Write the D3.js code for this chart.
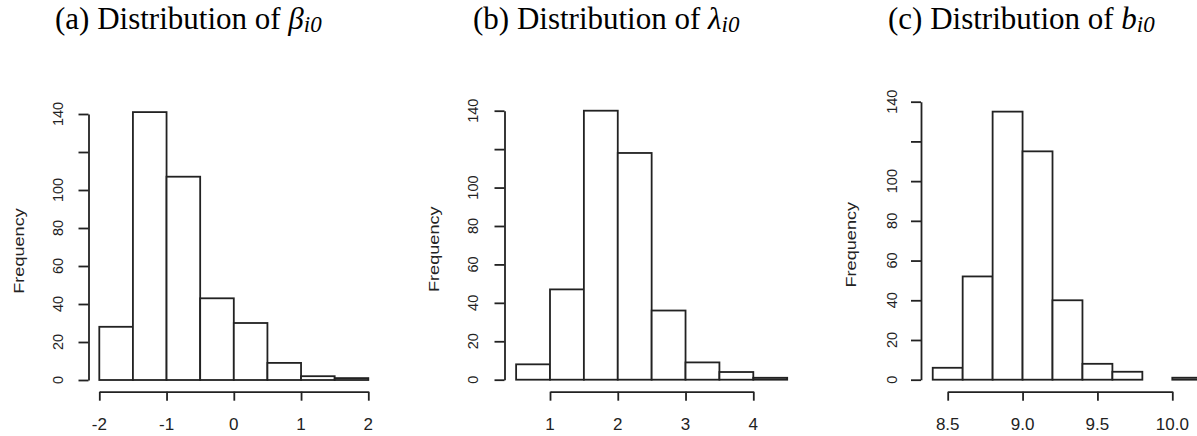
<!DOCTYPE html>
<html>
<head>
<meta charset="utf-8">
<script src="https://cdn.jsdelivr.net/npm/d3@7"></script>
<style>
  html, body { margin: 0; padding: 0; background: #fff; }
  svg { display: block; }
</style>
</head>
<body>
<svg id="chart" width="1197" height="436"></svg>
<script>
// Histogram bin edges and counts for the three initial-parameter distributions
const betaBreaks   = [-2, -1.5, -1, -0.5, 0, 0.5, 1, 1.5, 2];
const betaCounts   = [28, 141, 107, 43, 30, 9, 2, 1];
const betaTicks    = [-2, -1, 0, 1, 2];

const lambdaBreaks = [0.5, 1, 1.5, 2, 2.5, 3, 3.5, 4, 4.5];
const lambdaCounts = [8, 47, 140, 118, 36, 9, 4, 1];
const lambdaTicks  = [1, 2, 3, 4];

const bBreaks      = [8.4, 8.6, 8.8, 9.0, 9.2, 9.4, 9.6, 9.8, 10.0, 10.2];
const bCounts      = [6, 52, 135, 115, 40, 8, 4, 0, 1];
const bTicks       = [8.5, 9.0, 9.5, 10.0];

const freqTicks    = [0, 20, 40, 60, 80, 100, 120, 140];
const freqLabels   = [0, 20, 40, 60, 80, 100, 140];   // 120 is crowded out

const titles = [
  { lead: "(a) Distribution of ", sym: "β", sub: "i0" },
  { lead: "(b) Distribution of ", sym: "λ", sub: "i0" },
  { lead: "(c) Distribution of ", sym: "b", sub: "i0" }
];

const svg = d3.select("#chart");
const ink = "#222";
const sans = "Liberation Sans, Arial, sans-serif";
// R prints negative tick labels with a plain hyphen
const hyphen = f => v => f(v).replace("\u2212", "-");

const panels = [
  { breaks: betaBreaks,   counts: betaCounts,   ticks: betaTicks,   fmt: hyphen(d3.format("d")),
    xDom: [-2, 2],   xRange: [99.3, 368.3],  axisX: 88.5,  y0: 380,   y140: 114,
    labelX: 58, ylabX: 18, titleX: 55 },
  { breaks: lambdaBreaks, counts: lambdaCounts, ticks: lambdaTicks, fmt: hyphen(d3.format("d")),
    xDom: [1, 4],    xRange: [550, 753.3],   axisX: 504.5, y0: 379.7, y140: 110.7,
    labelX: 473, ylabX: 433, titleX: 473 },
  { breaks: bBreaks,      counts: bCounts,      ticks: bTicks,      fmt: hyphen(d3.format(".1f")),
    xDom: [8.5, 10], xRange: [947.7, 1172.3], axisX: 921,  y0: 379.7, y140: 101.7,
    labelX: 891.7, ylabX: 850, titleX: 888 }
];

panels.forEach((p, i) => {
  const x = d3.scaleLinear().domain(p.xDom).range(p.xRange);
  const y = d3.scaleLinear().domain([0, 140]).range([p.y0, p.y140]);
  const g = svg.append("g");

  // bars
  const bins = p.counts.map((c, k) => ({ x0: p.breaks[k], x1: p.breaks[k + 1], n: c }));
  g.selectAll("rect.bar").data(bins).enter().append("rect")
    .attr("class", "bar")
    .attr("x", d => x(d.x0))
    .attr("y", d => y(d.n))
    .attr("width", d => x(d.x1) - x(d.x0))
    .attr("height", d => y(0) - y(d.n))
    .attr("fill", "#fff")
    .attr("stroke", ink)
    .attr("stroke-width", 1.8);

  // y axis (R style: ticks pointing outward, labels parallel to axis)
  const ya = d3.axisLeft(y).tickValues(freqTicks).tickSize(10).tickSizeOuter(0).tickFormat("");
  const yg = g.append("g").attr("transform", `translate(${p.axisX},0)`).call(ya);
  yg.selectAll("path,line").attr("stroke", ink).attr("stroke-width", 1.8);
  g.selectAll("text.ytl").data(freqLabels).enter().append("text")
    .attr("class", "ytl")
    .attr("transform", d => `translate(${p.labelX + 5},${y(d)}) rotate(-90)`)
    .attr("text-anchor", "middle")
    .attr("font-family", sans)
    .attr("font-size", 14.5)
    .attr("fill", "#222")
    .text(d => d);

  // x axis
  const xa = d3.axisBottom(x).tickValues(p.ticks).tickSize(9).tickSizeOuter(0).tickFormat("");
  const xg = g.append("g").attr("transform", "translate(0,391.7)").call(xa);
  xg.selectAll("path,line").attr("stroke", ink).attr("stroke-width", 1.8);
  g.selectAll("text.xtl").data(p.ticks).enter().append("text")
    .attr("class", "xtl")
    .attr("x", d => x(d))
    .attr("y", 430)
    .attr("text-anchor", "middle")
    .attr("font-family", sans)
    .attr("font-size", 17)
    .attr("fill", "#222")
    .text(d => p.fmt(d));

  // y axis title
  g.append("text")
    .attr("transform", `translate(${p.ylabX + 5.5},${(p.y0 + p.y140) / 2 + 4}) rotate(-90) scale(1.25,1)`)
    .attr("text-anchor", "middle")
    .attr("font-family", sans)
    .attr("font-size", 14.5)
    .attr("fill", "#222")
    .text("Frequency");

  // panel title
  const t = titles[i];
  const tt = svg.append("text")
    .attr("x", p.titleX)
    .attr("y", 29)
    .attr("font-family", "Liberation Serif, Times New Roman, serif")
    .attr("font-size", 31)
    .attr("fill", "#000");
  tt.append("tspan").text(t.lead);
  tt.append("tspan").attr("font-style", "italic").text(t.sym);
  tt.append("tspan").attr("font-style", "italic").attr("font-size", 23).attr("dy", 3).text(t.sub);
});
</script>
</body>
</html>
